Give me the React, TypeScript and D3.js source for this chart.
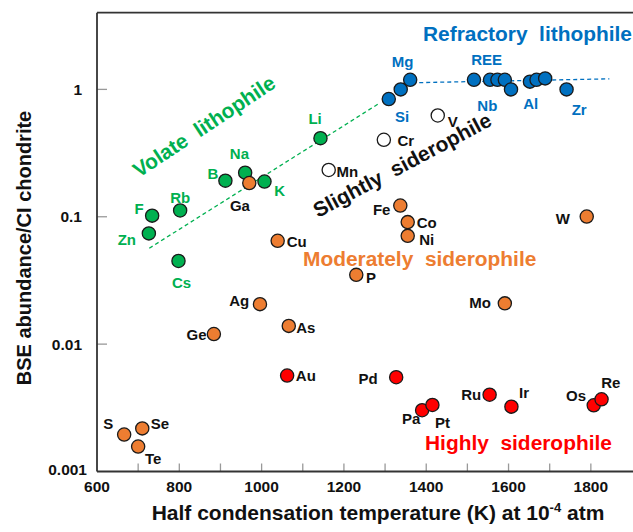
import React from "react";
import * as d3 from "d3";

// ---- Data ----
const greenNames = ["Zn", "F", "Cs", "Rb", "B", "Na", "K", "Li"];
const greenTemps = [726, 734, 798, 802, 912, 960, 1007, 1143];
const greenValues = [0.074, 0.102, 0.045, 0.112, 0.192, 0.222, 0.189, 0.414];

const blueNames = ["Si", "", "Mg", "REE", "Nb", "", "", "", "Al", "", "", "Zr"];
const blueTemps = [1309, 1338, 1361, 1516, 1555, 1573, 1591, 1606, 1652, 1668, 1689, 1741];
const blueValues = [0.84, 1.0, 1.19, 1.19, 1.19, 1.19, 1.19, 1.0, 1.15, 1.19, 1.22, 1.0];

const openNames = ["Mn", "Cr", "V"];
const openTemps = [1163, 1297, 1428];
const openValues = [0.233, 0.402, 0.624];

const orangeNames = ["S", "Te", "Se", "Ge", "Ga", "Ag", "Cu", "As", "P", "Fe", "Co", "Ni", "Mo", "W"];
const orangeTemps = [666, 700, 710, 884, 970, 996, 1039, 1066, 1230, 1337, 1355, 1355, 1591, 1790];
const orangeValues = [0.00195, 0.00157, 0.00218, 0.012, 0.184, 0.0206, 0.0648, 0.0139, 0.035, 0.1225, 0.0908, 0.0708, 0.0209, 0.1004];

const redNames = ["Au", "Pd", "Pa", "Pt", "Ru", "Ir", "Os", "Re"];
const redTemps = [1062, 1327, 1390, 1415, 1554, 1607, 1807, 1826];
const redValues = [0.00567, 0.0055, 0.00303, 0.00333, 0.00401, 0.00323, 0.00331, 0.00369];

const volatileTrendTemps = [727, 1288];
const volatileTrendValues = [0.0566, 0.785];
const refractoryTrendTemps = [1383, 1845];
const refractoryTrendValues = [1.13, 1.21];

const xTickValues = [700, 800, 900, 1000, 1100, 1200, 1300, 1400, 1500, 1600, 1700, 1800];
const xTickLabels = ["600", "800", "1000", "1200", "1400", "1600", "1800"];
const yTickValues = [1, 0.1, 0.01];
const yTickLabels = ["1", "0.1", "0.01", "0.001"];

// ---- Styling / layout (kept separate from data) ----
const W = 633;
const H = 532;
const FONT = "'Liberation Sans', Arial, Helvetica, sans-serif";
const GREEN = "#00B050";
const BLUE = "#0070C0";
const ORANGE = "#ED7D31";
const RED = "#FF0000";
const BLACK = "#111";

// label offsets (px, relative to marker centre)
const labelOffsets: Record<string, [number, number]> = {
  F: [-13, -7], Zn: [-22, 6], Rb: [0, -12.5], B: [-12.6, -7.4], Na: [-5.7, -18.7],
  K: [15.3, 9], Ga: [-9.3, 22.7], Li: [-5.4, -19.6], Mn: [18.6, 2], Cu: [19, 0.7], Cs: [3, 21.6],
  Mg: [-7.7, -18.3], Si: [13.3, 17.4], REE: [12.7, -20.7], Nb: [-2.7, 26], Al: [0.7, 22.3], Zr: [12.6, 19.7],
  Cr: [22, 0.7], V: [15, 6], Fe: [-18.6, 4.3], Co: [19, 0], Ni: [19, 3.3], W: [-24, 1.6],
  P: [14.7, 2.5], Mo: [-24.7, -0.6], Pd: [-28, 1.7], Pa: [-11, 8], Pt: [10, 18], Ru: [-18.4, -0.4],
  Ir: [12.7, -14], Os: [-17.7, -9.6], Re: [9.3, -16.6], Ag: [-20.7, -3.3], As: [17, 1.7],
  Ge: [-17.3, 0], Au: [18.7, 0.3], S: [-16, -10.7], Se: [17.7, -5], Te: [15, 11.6],
};

type Grp = { names: string[]; temps: number[]; values: number[]; fill: string; labelColor: string };

export default function App() {
  const x = d3.scaleLinear().domain([600, 1900]).range([97, 632]);
  const y = d3.scaleLog().domain([0.001, 4]).range([471.5, 12.7]);
  const [x0, x1] = [x(600), 633];
  const [yb, yt] = [y(0.001), y(4)];

  const groups: Grp[] = [
    { names: greenNames, temps: greenTemps, values: greenValues, fill: GREEN, labelColor: GREEN },
    { names: openNames, temps: openTemps, values: openValues, fill: "#fff", labelColor: BLACK },
    { names: blueNames, temps: blueTemps, values: blueValues, fill: BLUE, labelColor: BLUE },
    { names: orangeNames, temps: orangeTemps, values: orangeValues, fill: ORANGE, labelColor: BLACK },
    { names: redNames, temps: redTemps, values: redValues, fill: RED, labelColor: BLACK },
  ];

  const line = d3
    .line<[number, number]>()
    .x((d) => x(d[0]))
    .y((d) => y(d[1]));
  const volTrend = line(volatileTrendTemps.map((t, i) => [t, volatileTrendValues[i]] as [number, number]));
  const refTrend = line(refractoryTrendTemps.map((t, i) => [t, refractoryTrendValues[i]] as [number, number]));

  const yLabelVals = [1, 0.1, 0.01, 0.001];

  return (
    <svg
      width={W}
      height={H}
      style={{ position: "absolute", left: 0, top: 0, background: "#fff" }}
      fontFamily={FONT}
      fontWeight="bold"
    >
      {/* ticks */}
      {xTickValues.map((v) => (
        <line key={"xt" + v} x1={x(v)} x2={x(v)} y1={yb} y2={yb - 8} stroke="#999" strokeWidth={1.3} />
      ))}
      {yTickValues.map((v) => (
        <line key={"yt" + v} x1={x0} x2={x0 + 10} y1={y(v)} y2={y(v)} stroke="#999" strokeWidth={1.3} />
      ))}
      {/* frame */}
      <line x1={x0} x2={x0} y1={yt} y2={yb} stroke="#333" strokeWidth={1.8} />
      <line x1={x0} x2={x1} y1={yt} y2={yt} stroke="#333" strokeWidth={1.8} />
      <line x1={x0} x2={x1} y1={yb} y2={yb} stroke="#333" strokeWidth={1.8} />

      {/* tick labels */}
      {xTickLabels.map((t) => (
        <text key={"xl" + t} x={x(+t)} y={492} textAnchor="middle" fontSize={15.5} fill={BLACK}>
          {t}
        </text>
      ))}
      {yTickLabels.map((t, i) => (
        <text
          key={"yl" + t}
          x={i === 3 ? 87 : 82}
          y={i === 3 ? yb - 2 : y(yLabelVals[i])}
          textAnchor="end"
          dominantBaseline="central"
          fontSize={15.5}
          fill={BLACK}
        >
          {t}
        </text>
      ))}

      {/* axis titles */}
      <text x={378} y={520} textAnchor="middle" fontSize={21} fill={BLACK}>
        Half condensation temperature (K) at 10
        <tspan fontSize={13} dy={-8}>-4</tspan>
        <tspan dy={8}> atm</tspan>
      </text>
      <text
        transform={`translate(31,${248}) rotate(-90)`}
        textAnchor="middle"
        fontSize={20}
        fill={BLACK}
      >
        BSE abundance/CI chondrite
      </text>

      {/* trend lines */}
      <path d={volTrend ?? ""} stroke={GREEN} strokeWidth={1.3} strokeDasharray="4 3" fill="none" />
      <path d={refTrend ?? ""} stroke={BLUE} strokeWidth={1.3} strokeDasharray="4 3" fill="none" />

      {/* group annotations */}
      <text x={423} y={41} fontSize={20.9} fill={BLUE} style={{ whiteSpace: "pre" }}>
        {"Refractory  lithophile"}
      </text>
      <text x={303} y={266} fontSize={20.9} fill={ORANGE} style={{ whiteSpace: "pre" }}>
        {"Moderately  siderophile"}
      </text>
      <text x={425} y={450} fontSize={20.9} fill={RED} style={{ whiteSpace: "pre" }}>
        {"Highly  siderophile"}
      </text>
      <text
        transform="translate(139,178) rotate(-33.5)"
        fontSize={20.9}
        fill={GREEN}
        style={{ whiteSpace: "pre" }}
      >
        {"Volate  lithophile"}
      </text>
      <text
        transform="translate(318,218) rotate(-28)"
        fontSize={20.9}
        fill={BLACK}
        style={{ whiteSpace: "pre" }}
      >
        {"Slightly  siderophile"}
      </text>

      {/* markers */}
      {groups.map((g, gi) => (
        <g key={"g" + gi}>
          {g.temps.map((t, i) => (
            <circle
              key={i}
              cx={x(t)}
              cy={y(g.values[i])}
              r={6.6}
              fill={g.fill}
              stroke="#1a1a1a"
              strokeWidth={1.3}
            />
          ))}
        </g>
      ))}
      {/* point labels */}
      {groups.map((g, gi) => (
        <g key={"l" + gi}>
          {g.names.map((n, i) => {
            if (!n) return null;
            const off = labelOffsets[n] ?? [10, 0];
            return (
              <text
                key={n}
                x={x(g.temps[i]) + off[0]}
                y={y(g.values[i]) + off[1]}
                textAnchor="middle"
                dominantBaseline="central"
                fontSize={15}
                fill={g.labelColor}
              >
                {n}
              </text>
            );
          })}
        </g>
      ))}
    </svg>
  );
}
